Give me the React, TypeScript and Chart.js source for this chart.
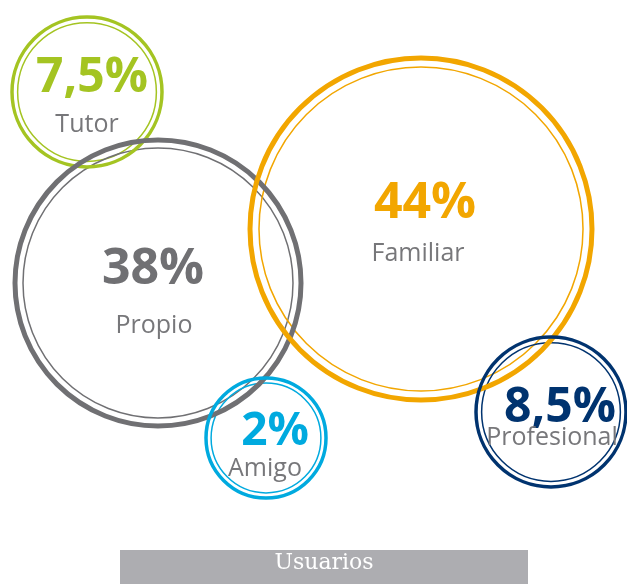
import React, { useEffect, useRef } from "react";
import { Chart, registerables } from "chart.js";
Chart.register(...registerables);

const categories = ["Tutor", "Propio", "Familiar", "Amigo", "Profesional"];
const percentLabels = ["7,5%", "38%", "44%", "2%", "8,5%"];
const shares = [7.5, 38, 44, 2, 8.5];
const xValues = [87, 158, 421, 266, 551];
const yValues = [92, 283, 229, 438, 412];
const radii = [75, 143, 171, 60, 75];
const colors = ["#a4c422", "#707073", "#f2a600", "#00aadf", "#00336f"];
const footerLabel = "Usuarios";

// text layout per bubble: [pct dx, pct dy, label dx, label dy, pct size]
const textLayout = [
  [5, 0, 0, 40, 48],
  [-5, 1, -4, 50, 50],
  [4, -11, -3, 32, 50],
  [9, 7, -1, 38, 46],
  [9, 10, 1, 33, 48],
];

const labelPlugin = {
  id: "bubbleLabels",
  afterDatasetsDraw(chart: any) {
    const ctx = chart.ctx;
    const meta = chart.getDatasetMeta(0);
    meta.data.forEach((el: any, i: number) => {
      const { x, y } = el.getProps(["x", "y"], true);
      const [dxP, dyP, dxL, dyL, sizeP] = textLayout[i];
      ctx.save();
      ctx.textAlign = "center";
      ctx.textBaseline = "alphabetic";
      ctx.fillStyle = colors[i];
      ctx.font = `700 ${sizeP}px "Open Sans"`;
      ctx.fillText(percentLabels[i], x + dxP, y + dyP);
      ctx.fillStyle = "#77777a";
      ctx.font = `400 25px "Open Sans"`;
      ctx.fillText(categories[i], x + dxL, y + dyL);
      ctx.restore();
    });
    // footer bar
    ctx.save();
    ctx.fillStyle = "#adadb1";
    ctx.fillRect(120, 550, 408, 34);
    ctx.fillStyle = "#ffffff";
    ctx.font = `400 22px "DejaVu Serif"`;
    ctx.textAlign = "center";
    ctx.textBaseline = "alphabetic";
    ctx.fillText(footerLabel, 324, 569);
    ctx.restore();
  },
};

export default function App() {
  const ref = useRef<HTMLCanvasElement | null>(null);
  useEffect(() => {
    if (!ref.current) return;
    const outer = categories.map((_, i) => ({ x: xValues[i], y: yValues[i], r: radii[i], v: shares[i] }));
    const inner = categories.map((_, i) => ({ x: xValues[i], y: yValues[i], r: radii[i] - (3 + radii[i] * 0.035), v: shares[i] }));
    const chart = new Chart(ref.current, {
      type: "bubble",
      data: {
        datasets: [
          {
            data: outer,
            backgroundColor: "rgba(0,0,0,0)",
            borderColor: colors,
            borderWidth: radii.map((r) => (r > 100 ? 5 : 3.5)),
            hoverRadius: 0,
            clip: false,
          } as any,
          {
            data: inner,
            backgroundColor: "rgba(0,0,0,0)",
            borderColor: colors,
            borderWidth: 1.5,
            hoverRadius: 0,
            clip: false,
          } as any,
        ],
      },
      options: {
        animation: false,
        responsive: false,
        events: [],
        layout: { padding: 0, autoPadding: false },
        plugins: { legend: { display: false }, tooltip: { enabled: false } },
        scales: {
          x: { type: "linear", display: false, min: 0, max: 627 },
          y: { type: "linear", display: false, min: 0, max: 584, reverse: true },
        },
      } as any,
      plugins: [labelPlugin],
    });
    return () => chart.destroy();
  }, []);
  return (
    <div style={{ position: "absolute", left: 0, top: 0, width: 627, height: 584, background: "#fff" }}>
      <canvas ref={ref} width={627} height={584} style={{ display: "block" }} />
    </div>
  );
}
